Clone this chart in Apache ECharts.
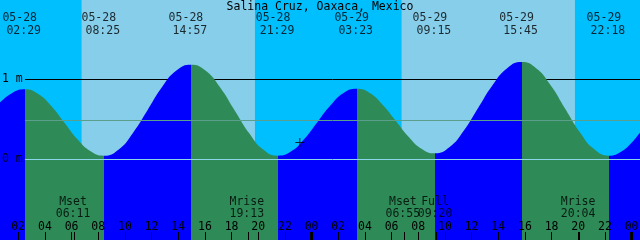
<!DOCTYPE html>
<html><head><meta charset="utf-8">
<script src="https://cdn.jsdelivr.net/npm/echarts@6/dist/echarts.min.js"></script>
<style>html,body{margin:0;padding:0;background:#00BFFF}#c{width:640px;height:240px}</style>
</head><body><div id="c"></div>
<script>
// ---------- data ----------
const TITLE = 'Salina Cruz, Oaxaca, Mexico';
const TIDE_DATES  = ['05-28','05-28','05-28','05-28','05-29','05-29','05-29','05-29'];
const TIDE_CLOCKS = ['02:29','08:25','14:57','21:29','03:23','09:15','15:45','22:18'];
const TIDE_KINDS  = ['high','low','high','low','high','low','high','low'];
// tide curve samples: hours since 05-28 00:00, height in metres
const CURVE_HOURS = [0.63, 1.55, 2.48, 3.47, 4.46, 5.45, 6.44, 7.43, 8.42, 9.51, 10.6, 11.68, 12.77, 13.86,
  14.95, 16.04, 17.13, 18.22, 19.31, 20.39, 21.48, 22.47, 23.45, 24.43, 25.42, 26.4, 27.38, 28.36, 29.34,
  30.32, 31.29, 32.27, 33.25, 34.33, 35.42, 36.5, 37.58, 38.67, 39.75, 40.84, 41.93, 43.03, 44.12, 45.21,
  46.3, 47.3, 47.96, 48.63];
const CURVE_HEIGHTS = [0.71, 0.83, 0.875, 0.82, 0.67, 0.46, 0.25, 0.10, 0.045, 0.12, 0.33, 0.61, 0.90, 1.11,
  1.183, 1.11, 0.90, 0.615, 0.33, 0.12, 0.046, 0.10, 0.255, 0.465, 0.675, 0.83, 0.883, 0.83, 0.68,
  0.48, 0.28, 0.13, 0.075, 0.15, 0.36, 0.645, 0.93, 1.14, 1.217, 1.14, 0.925, 0.63, 0.34, 0.125,
  0.046, 0.105, 0.20, 0.335];
const MOON_NAMES  = ['Mset','Mrise','Mset','Full','Mrise'];
const MOON_DATES  = ['05-28','05-28','05-29','05-29','05-29'];
const MOON_CLOCKS = ['06:11','19:13','06:55','09:20','20:04'];
const SUN_RISE = [['05-28','06:45'], ['05-29','06:45']];
const SUN_SET  = [['05-28','19:45'], ['05-29','19:45']];
const HOUR_TICKS = [2,4,6,8,10,12,14,16,18,20,22,24,26,28,30,32,34,36,38,40,42,44,46,48];
const MIDNIGHT_TICKS = [24, 48];
const LEVEL_TICKS = [0, 1];
const MSL_LEVEL = 0.49;
const NOW_POINT = { date: '05-28', clock: '23:07', height: 0.21 };
const RANGE_HOURS = [0.63, 48.63];

// ---------- style ----------
const FONT = "'DejaVu Sans Mono', monospace";
const FS = 11.5;
const C_NIGHT = '#00BFFF', C_DAY = '#87CEEB', C_RISE = '#0000FF', C_FALL = '#2E8B57';
const C_MSL = '#5B9E8C', C_DATUM = '#8DD5E8';
const Y_MIN = -1.008, Y_MAX = 1.992;
const LINE_X0 = 2.5;          // where the level lines start (hours)
const ROW_DATE = 1.767, ROW_TIME = 1.61, ROW_MOON = -0.533, ROW_MTIME = -0.677;

function toHours(date, clock) {
  const day = parseInt(date.split('-')[1], 10);
  const [h, m] = clock.split(':').map(Number);
  return (day - 28) * 24 + h + m / 60;
}
const pad2 = v => String(v).padStart(2, '0');

const tideT = TIDE_DATES.map((d, i) => toHours(d, TIDE_CLOCKS[i]));
const moonT = MOON_DATES.map((d, i) => toHours(d, MOON_CLOCKS[i]));

// rising/falling colour pieces along time
const pieces = [];
tideT.forEach((t, i) => {
  const before = TIDE_KINDS[i] === 'high' ? C_RISE : C_FALL;
  if (i === 0) pieces.push({ lt: t, color: before });
  else pieces.push({ gte: tideT[i - 1], lt: t, color: before });
});
pieces.push({ gte: tideT[tideT.length - 1], color: TIDE_KINDS[tideT.length - 1] === 'high' ? C_FALL : C_RISE });

const txt = { color: '#000', fontFamily: FONT, fontSize: FS };
function labelSeries(times, y, texts, dx) {
  return {
    type: 'scatter', silent: true, z: 10, symbolSize: 1,
    itemStyle: { color: 'rgba(0,0,0,0)' },
    data: times.map(t => [t, y]),
    label: Object.assign({ show: true, position: 'inside', offset: [dx, 0],
      formatter: p => texts[p.dataIndex] }, txt),
    emphasis: { disabled: true }
  };
}
function tickAxis(values, width, showLabel) {
  return {
    type: 'value', min: RANGE_HOURS[0], max: RANGE_HOURS[1], position: 'bottom', z: 10,
    axisLine: { show: false, onZero: false }, splitLine: { show: false },
    axisTick: { show: true, inside: true, length: 8, customValues: values,
      lineStyle: { color: '#000', width: width } },
    axisLabel: showLabel ? Object.assign({ show: true, inside: true, margin: 7, customValues: values,
      formatter: v => pad2(Math.round(v) % 24) }, txt) : { show: false }
  };
}

const chart = echarts.init(document.getElementById('c'), null, { renderer: 'canvas' });
chart.setOption({
  animation: false,
  backgroundColor: C_NIGHT,
  title: { text: TITLE, left: 'center', top: 1, padding: 0,
    textStyle: { color: '#000', fontFamily: FONT, fontSize: FS, fontWeight: 'normal' } },
  grid: { left: 0, right: 0, top: 0, bottom: 0, outerBoundsMode: 'none' },
  xAxis: [tickAxis(HOUR_TICKS, 1, true), tickAxis(MIDNIGHT_TICKS, 3, false), tickAxis(moonT, 1, false)],
  yAxis: { type: 'value', min: Y_MIN, max: Y_MAX, z: 10,
    axisLine: { show: false, onZero: false }, axisTick: { show: false }, splitLine: { show: false },
    axisLabel: Object.assign({ show: true, inside: true, margin: 2, customValues: LEVEL_TICKS,
      formatter: v => v + ' m' }, txt) },
  visualMap: { show: false, type: 'piecewise', dimension: 0, seriesIndex: 0, pieces: pieces },
  series: [
    {
      type: 'line', z: 3, smooth: 0.5, showSymbol: false, silent: true,
      data: CURVE_HOURS.map((t, i) => [t, CURVE_HEIGHTS[i]]),
      lineStyle: { width: 0, opacity: 0 },
      areaStyle: { opacity: 1, origin: 'start' },
      markArea: { silent: true, z: 1, itemStyle: { color: C_DAY, opacity: 1 },
        data: SUN_RISE.map((r, i) => [{ xAxis: toHours(r[0], r[1]) }, { xAxis: toHours(SUN_SET[i][0], SUN_SET[i][1]) }]) },
      markLine: { silent: true, z: 5, symbol: ['none', 'none'], label: { show: false },
        lineStyle: { type: 'solid', width: 1 },
        data: [
          [{ coord: [LINE_X0, MSL_LEVEL], lineStyle: { color: C_MSL, type: 'solid', width: 1 } }, { coord: [RANGE_HOURS[1], MSL_LEVEL] }],
          [{ coord: [LINE_X0, 0], lineStyle: { color: C_DATUM, type: 'solid', width: 1 } }, { coord: [RANGE_HOURS[1], 0] }]
        ] }
    },
    {
      type: 'scatter', z: 6, silent: true,
      symbol: 'path://M0 4H9V5H0ZM4 0H5V9H4Z', symbolSize: 9,
      itemStyle: { color: '#000' },
      data: [[toHours(NOW_POINT.date, NOW_POINT.clock), NOW_POINT.height]],
      markLine: { silent: true, z: 2, symbol: ['none', 'none'], label: { show: false },
        lineStyle: { color: '#000', type: 'solid', width: 1 },
        data: [[{ coord: [LINE_X0, 1] }, { coord: [RANGE_HOURS[1], 1] }]] }
    },
    labelSeries(tideT, ROW_DATE, TIDE_DATES, -5),
    labelSeries(tideT, ROW_TIME, TIDE_CLOCKS, -1),
    labelSeries(moonT, ROW_MOON, MOON_NAMES, -1),
    labelSeries(moonT, ROW_MTIME, MOON_CLOCKS, -1)
  ]
});
</script></body></html>
